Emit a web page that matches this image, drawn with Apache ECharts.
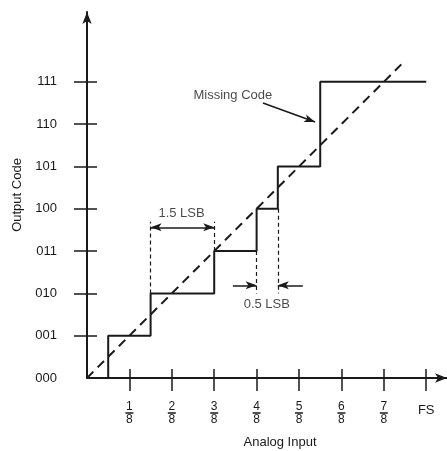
<!DOCTYPE html>
<html><head><meta charset="utf-8">
<script src="https://cdn.jsdelivr.net/npm/echarts@6/dist/echarts.min.js"></script>
<style>html,body{margin:0;padding:0;background:#fff}#c{width:447px;height:451px}</style>
</head><body><div id="c"></div>
<script>
// ---- data ----
const xTickValues = [1, 2, 3, 4, 5, 6, 7, 8];
const xTickLabels = ['1/8', '2/8', '3/8', '4/8', '5/8', '6/8', '7/8', 'FS'];
const yTickValues = [0, 1, 2, 3, 4, 5, 6, 7];
const yTickLabels = ['000', '001', '010', '011', '100', '101', '110', '111'];
// transfer function: input (in 1/8 FS) where each code starts, and the code
const stepInput = [0, 0.5, 1.5, 3, 4, 4.5, 5.5, 8];
const stepCode  = [0, 1, 2, 3, 4, 5, 7, 7];
// ideal transfer line
const idealInput = [0, 7.45];
const idealCode  = [0, 7.45];
// annotations
const dnl15Edges = [1.5, 3];      // 1.5 LSB step width
const dnl05Edges = [4, 4.5];      // 0.5 LSB step width
const noteTexts = ['1.5 LSB', '0.5 LSB', 'Missing Code'];

const INK = '#1a1a1a';
const FONT = '"Liberation Sans", Arial, sans-serif';

const stepData = stepInput.map((x, i) => [x, stepCode[i]]);
const idealData = idealInput.map((x, i) => [x, idealCode[i]]);

function xLabel(v) {
  const i = xTickValues.indexOf(v);
  if (i < 0) return '';
  const s = xTickLabels[i];
  if (s.indexOf('/') >= 0) {
    const p = s.split('/');
    return '{n|' + p[0] + '}\n{bar|}\n{d|' + p[1] + '}';
  }
  return '{f|' + s + '}';
}
function yLabel(v) {
  const i = yTickValues.indexOf(v);
  return i < 0 ? '' : yTickLabels[i];
}

const dashed = { color: INK, width: 1.2, type: [4, 3] };
const solid = { color: INK, width: 1.5, type: 'solid' };

const chart = echarts.init(document.getElementById('c'), null, { renderer: 'canvas' });
chart.setOption({
  animation: false,
  backgroundColor: '#fff',
  textStyle: { fontFamily: FONT },
  grid: { left: 87, right: 0, top: 12, bottom: 73, containLabel: false, outerBoundsMode: 'none' },
  xAxis: [{
    type: 'value', min: 0, max: 8.49, interval: 1, position: 'bottom',
    axisLine: { show: true, onZero: false, lineStyle: { color: INK, width: 2 }, symbol: ['none', 'arrow'], symbolSize: [7, 12] },
    axisTick: { show: true, length: 13, lineStyle: { color: INK, width: 1.5 }, customValues: xTickValues },
    axisLabel: {
      show: true, margin: 24, customValues: xTickValues, formatter: xLabel, color: INK, fontFamily: FONT,
      rich: {
        n: { fontSize: 12, lineHeight: 10, color: INK, fontFamily: FONT, align: 'center' },
        d: { fontSize: 12, lineHeight: 11, color: INK, fontFamily: FONT, align: 'center' },
        bar: { width: 8, height: 1.5, lineHeight: 2, backgroundColor: INK, align: 'center' },
        f: { fontSize: 13, lineHeight: 16, color: INK, fontFamily: FONT, align: 'center' }
      }
    },
    splitLine: { show: false },
    name: 'Analog Input', nameLocation: 'middle', nameGap: 58,
    nameTextStyle: { fontSize: 13, color: INK, fontFamily: FONT, padding: [0, 0, 0, 26] }
  }, {
    type: 'value', min: 0, max: 8.49, interval: 1, position: 'bottom', offset: 0,
    axisLine: { show: false },
    axisTick: { show: true, inside: true, length: 9, lineStyle: { color: INK, width: 1.5 }, customValues: xTickValues },
    axisLabel: { show: false }, splitLine: { show: false }
  }],
  yAxis: [{
    type: 'value', min: 0, max: 8.65, interval: 1, position: 'left',
    axisLine: { show: true, onZero: false, lineStyle: { color: INK, width: 2 }, symbol: ['none', 'arrow'], symbolSize: [7, 12] },
    axisTick: { show: true, length: 13, lineStyle: { color: INK, width: 1.5 }, customValues: yTickValues.slice(1) },
    axisLabel: { show: true, margin: 30, customValues: yTickValues, formatter: yLabel, color: INK, fontSize: 13, fontFamily: FONT },
    splitLine: { show: false },
    name: 'Output Code', nameLocation: 'middle', nameGap: 60,
    nameTextStyle: { fontSize: 13, color: INK, fontFamily: FONT }
  }, {
    type: 'value', min: 0, max: 8.65, interval: 1, position: 'left', offset: 0,
    axisLine: { show: false },
    axisTick: { show: true, inside: true, length: 10, lineStyle: { color: INK, width: 1.5 }, customValues: yTickValues.slice(1) },
    axisLabel: { show: false }, splitLine: { show: false }
  }],
  series: [
    {
      type: 'line', name: 'ideal', data: idealData, symbol: 'none', silent: true,
      lineStyle: { color: INK, width: 2, type: [9, 6] }
    },
    {
      type: 'line', name: 'actual', data: stepData, step: 'end', symbol: 'none', silent: true,
      lineStyle: { color: INK, width: 2 },
      markLine: {
        silent: true, symbol: 'none', label: { show: false },
        data: [
          // 1.5 LSB extension lines
          [{ coord: [dnl15Edges[0], 2], lineStyle: dashed }, { coord: [dnl15Edges[0], 3.69] }],
          [{ coord: [dnl15Edges[1], 3], lineStyle: dashed }, { coord: [dnl15Edges[1], 3.69] }],
          // 0.5 LSB extension lines
          [{ coord: [dnl05Edges[0], 3], lineStyle: dashed }, { coord: [dnl05Edges[0], 2.0] }],
          [{ coord: [dnl05Edges[1], 4], lineStyle: dashed }, { coord: [dnl05Edges[1], 2.0] }],
          // 1.5 LSB double arrow
          [{ coord: [dnl15Edges[0], 3.56], lineStyle: solid, symbol: 'arrow', symbolSize: [6, 11] }, { coord: [dnl15Edges[1], 3.56], symbol: 'arrow', symbolSize: [6, 11] }],
          // 0.5 LSB inward arrows
          [{ coord: [3.44, 2.19], lineStyle: solid, symbol: 'none' }, { coord: [dnl05Edges[0], 2.19], symbol: 'arrow', symbolSize: [6, 11] }],
          [{ coord: [5.09, 2.19], lineStyle: solid, symbol: 'none' }, { coord: [dnl05Edges[1], 2.19], symbol: 'arrow', symbolSize: [6, 11] }],
          // Missing code pointer
          [{ coord: [4.15, 6.5], lineStyle: solid, symbol: 'none' }, { coord: [5.38, 6.05], symbol: 'arrow', symbolSize: [6, 11] }]
        ]
      }
    },
    {
      type: 'scatter', name: 'notes', symbol: 'circle', symbolSize: 0, silent: true,
      labelLayout: { hideOverlap: false },
      data: [
        { value: [2.23, 3.9], name: noteTexts[0] },
        { value: [4.24, 1.73], name: noteTexts[1] },
        { value: [3.44, 6.69], name: noteTexts[2] }
      ],
      label: { show: true, position: 'inside', formatter: p => p.name, color: INK, fontSize: 13, fontFamily: FONT, textBorderWidth: 0 }
    }
  ]
});
</script>
</body></html>
